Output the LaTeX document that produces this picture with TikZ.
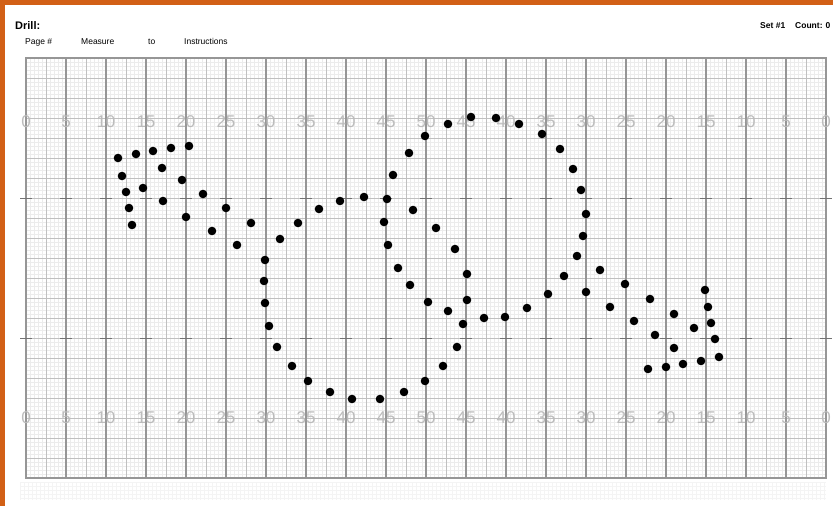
\documentclass[tikz,border=0pt]{standalone}
\usepackage{fontspec}
\setmainfont{Liberation Sans}
\definecolor{orangeb}{RGB}{210,96,22}
\definecolor{finegrid}{RGB}{236,236,236}
\definecolor{faintgrid}{RGB}{244,244,244}
\definecolor{minorgrid}{RGB}{192,192,192}
\definecolor{majorgrid}{RGB}{150,150,150}
\definecolor{hashgray}{RGB}{115,115,115}
\definecolor{numgray}{RGB}{188,188,188}
\tikzset{
  fine/.style={finegrid, line width=0.4pt},
  faint/.style={faintgrid, line width=0.4pt},
  minor/.style={minorgrid, line width=1pt},
  major/.style={majorgrid, line width=1.2pt},
  hashmark/.style={hashgray, line width=1pt},
  yardnum/.style={numgray, inner sep=0, font=\fontsize{17}{17}\selectfont},
  hdrbold/.style={anchor=base west, inner sep=0, font=\bfseries\fontsize{11}{11}\selectfont},
  hdr/.style={anchor=base west, inner sep=0, font=\fontsize{8.5}{8.5}\selectfont},
  hdrsmallbold/.style={anchor=base west, inner sep=0, font=\bfseries\fontsize{8.5}{8.5}\selectfont},
  dotmark/.style={black}
}
\begin{document}
\begin{tikzpicture}[x=1pt,y=-1pt]
\useasboundingbox (0,0) rectangle (833,506);
\clip (0,0) rectangle (833,506);
\fill[white] (0,0) rectangle (833,506);
% orange frame
\fill[orangeb] (0,0) rectangle (833,5);
\fill[orangeb] (0,0) rectangle (5,506);
% faint grid below the field
\foreach \x in {20,24,...,826} \draw[faint] (\x,482) -- (\x,500);
\foreach \y in {482,486,...,500} \draw[faint] (20,\y) -- (826,\y);
% fine grid
\foreach \x in {26,30,...,826} \draw[fine] (\x,58) -- (\x,478);
\foreach \y in {58,62,...,478} \draw[fine] (26,\y) -- (826,\y);
% minor grid
\foreach \x in {46,86,...,806} \draw[minor] (\x,58) -- (\x,478);
\foreach \y in {58,78,...,478} \draw[minor] (26,\y) -- (826,\y);
% yard lines
\foreach \x in {26,66,...,826} \draw[major] (\x,58) -- (\x,478);
\draw[major] (26,58) rectangle (826,478);
% hash marks
\foreach \x in {26,66,...,826} {
  \draw[hashmark] (\x-6,198) -- (\x+6,198);
  \draw[hashmark] (\x-6,338) -- (\x+6,338);
}
% yard numbers
\foreach \x/\n [count=\i] in {26/0,66/5,106/10,146/15,186/20,226/25,266/30,306/35,346/40,386/45,426/50,466/45,506/40,546/35,586/30,626/25,666/20,706/15,746/10,786/5,826/0} {
  \node[yardnum] (top\i) at (\x,122) {\n};
  \node[yardnum] (bot\i) at (\x,418) {\n};
}
% header
\node[hdrbold] (drill) at (15,29) {Drill:};
\node[hdr] (page) at (25,44.5) {Page \#};
\node[hdr] (measure) at (81,44.5) {Measure};
\node[hdr] (to) at (148,44.5) {to};
\node[hdr] (instr) at (184,44.5) {Instructions};
\node[hdrsmallbold] (set) at (760,28.5) {Set \#1};
\node[hdrsmallbold] (count) at (795,28.5) {Count: 0};
% dots
\foreach \a/\b in {
  118/158, 136/154, 153/151, 171/148, 189/146,
  122/176, 162/168, 182/180,
  126/192, 143/188, 163/201, 203/194,
  129/208, 132/225, 186/217, 226/208,
  212/231, 251/223, 237/245,
  265/260, 280/239, 298/223, 319/209, 340/201, 364/197, 387/199,
  384/222, 388/245, 393/175, 409/153, 425/136, 448/124, 471/117, 496/118,
  519/124, 542/134, 560/149, 573/169, 581/190, 586/214, 583/236, 577/256,
  564/276, 548/294, 527/308, 505/317, 484/318,
  413/210, 436/228, 455/249, 467/274, 467/300, 463/324, 457/347, 443/366,
  425/381, 404/392, 380/399, 352/399, 330/392, 308/381, 292/366, 277/347,
  269/326, 265/303, 264/281,
  398/268, 410/285, 428/302, 448/311,
  600/270, 586/292, 625/284, 610/307, 650/299, 634/321, 674/314, 655/335,
  694/328, 705/290, 708/307, 711/323, 715/339, 719/357, 674/348,
  648/369, 666/367, 683/364, 701/361}
  \fill[dotmark] (\a,\b) circle[radius=4.3pt];
\end{tikzpicture}
\end{document}
